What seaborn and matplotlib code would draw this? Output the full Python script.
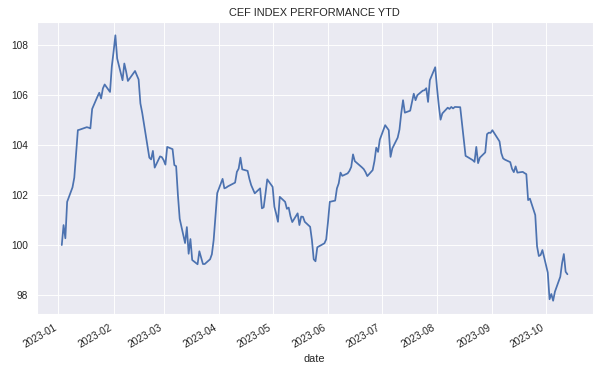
import numpy as np
import pandas as pd
import matplotlib
matplotlib.use("Agg")
import matplotlib.pyplot as plt
import seaborn as sns

# US market holidays in the period (no trading)
holidays = ["2023-01-16", "2023-02-20", "2023-04-07", "2023-05-29",
            "2023-06-19", "2023-07-04", "2023-09-04"]

jan = [100.0, 100.8, 100.27, 101.73, 102.31, 102.7, 103.68, 104.6, 104.62, 104.72,
       104.7, 104.67, 105.45, 105.95, 106.1, 105.87, 106.27, 106.43, 106.13, 107.15]
feb = [107.75, 108.4, 107.47, 106.6, 107.27, 106.95, 106.57, 106.67, 106.97, 106.8,
       106.63, 105.67, 105.3, 103.5, 103.43, 103.77, 103.1, 103.55, 103.52]
mar = [103.4, 103.22, 103.93, 103.84, 103.2, 103.16, 102.0, 101.05, 100.08, 100.72,
       99.65, 100.24, 99.4, 99.23, 99.75, 99.5, 99.24, 99.24, 99.43, 99.63,
       100.2, 101.15, 102.08]
apr = [102.65, 102.27, 102.3, 102.35, 102.5, 102.93, 103.06, 103.5, 103.03, 102.97,
       102.65, 102.4, 102.23, 102.07, 102.27, 101.47, 101.51, 102.05, 102.63]
may = [102.33, 101.53, 101.25, 100.93, 101.93, 101.73, 101.45, 101.5, 101.15, 100.92,
       101.27, 100.8, 101.14, 101.13, 100.93, 100.73, 100.2, 99.43, 99.35, 99.91,
       100.07, 100.23]
jun = [100.93, 101.73, 101.78, 102.27, 102.47, 102.9, 102.77, 102.87, 102.97, 103.13,
       103.63, 103.36, 103.11, 103.04, 102.92, 102.76, 103.0, 103.36, 103.9, 103.73,
       104.22]
jul = [104.8, 104.6, 103.53, 103.87, 104.3, 104.62, 105.28, 105.8, 105.3, 105.38,
       105.72, 106.06, 105.8, 106.0, 106.18, 106.2, 106.28, 105.73, 106.6, 107.12]
aug = [106.3, 105.6, 105.02, 105.27, 105.5, 105.45, 105.53, 105.47, 105.53, 105.52,
       104.87, 104.2, 103.57, 103.53, 103.4, 103.33, 103.93, 103.28, 103.5, 103.71,
       104.44, 104.5, 104.49]
sep = [104.6, 104.15, 103.68, 103.47, 103.42, 103.32, 103.05, 102.92, 103.15, 102.9,
       102.93, 102.88, 102.84, 101.8, 101.86, 101.2, 99.95, 99.56, 99.6, 99.8]
oct_ = [98.9, 97.83, 98.04, 97.77, 98.13, 98.73, 99.27, 99.64, 98.93, 98.83]

values = jan + feb + mar + apr + may + jun + jul + aug + sep + oct_
dates = pd.bdate_range("2023-01-03", "2023-10-13", freq="C", holidays=holidays)
n = min(len(dates), len(values))
df = pd.DataFrame({"date": dates[:n], "value": values[:n]})

sns.set_theme(style="darkgrid")
plt.rcParams["font.family"] = ["Liberation Sans", "DejaVu Sans"]

DPI = 66
fig, ax = plt.subplots(figsize=(606 / DPI, 374 / DPI), dpi=DPI)
sns.lineplot(data=df, x="date", y="value", ax=ax, linewidth=1.9)
ax.set_title("CEF INDEX PERFORMANCE YTD")
ax.set_ylabel("")
ax.set_xlabel("date")
for lbl in ax.get_xticklabels():
    lbl.set_rotation(30)
    lbl.set_ha("right")
fig.subplots_adjust(left=36.5 / 606, right=592.7 / 606, top=1 - 22 / 374, bottom=1 - 314 / 374)
fig.savefig("out.png", dpi=DPI)
